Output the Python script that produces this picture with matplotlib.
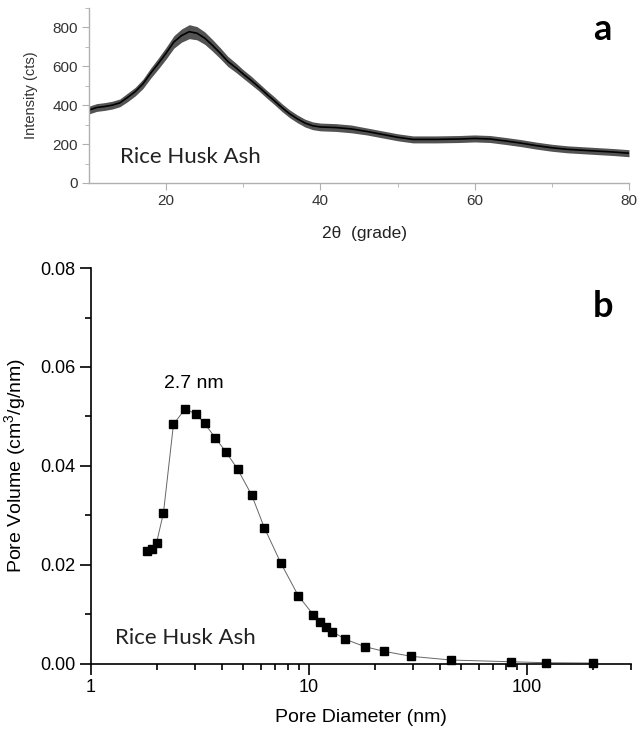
import matplotlib
matplotlib.use("Agg")
import matplotlib.pyplot as plt
from matplotlib.ticker import MultipleLocator, FixedLocator, LogLocator, NullFormatter

plt.rcParams['font.family'] = ['Liberation Sans', 'DejaVu Sans']
plt.rcParams['mathtext.fontset'] = 'custom'
plt.rcParams['mathtext.rm'] = 'Liberation Sans'
plt.rcParams['mathtext.it'] = 'Liberation Sans:italic'

# XRD pattern of the ash (centre of the noisy trace and its half-width)
two_theta = [10, 11, 12, 13, 14, 15, 16, 17, 18, 19, 20, 21, 22, 23, 24, 25, 26, 27,
             28, 29, 30, 31, 32, 33, 34, 35, 36, 37, 38, 39, 40, 42, 44, 46, 48, 50,
             52, 55, 58, 60, 62, 64, 66, 68, 70, 72, 75, 78, 80]
intensity = [375, 388, 393, 400, 412, 440, 470, 510, 565, 615, 668, 725, 758, 778, 770,
             745, 708, 668, 625, 594, 560, 528, 494, 458, 424, 388, 356, 330, 308, 294,
             288, 285, 278, 265, 250, 235, 224, 224, 226, 229, 226, 216, 205, 192, 181,
             173, 166, 159, 153]
noise = [20, 20, 20, 20, 20, 22, 22, 24, 26, 28, 30, 32, 34, 36, 34, 32, 30, 28,
         26, 24, 22, 22, 20, 20, 20, 20, 20, 20, 20, 20, 20, 20, 20, 18, 18, 18,
         18, 18, 18, 18, 18, 18, 18, 18, 18, 18, 18, 18, 18]

# BJH pore size distribution
pore_d = [1.80, 1.90, 2.00, 2.15, 2.39, 2.70, 3.03, 3.32, 3.71, 4.15, 4.71, 5.46, 6.24,
          7.44, 8.93, 10.47, 11.2, 11.96, 12.8, 14.7, 18.07, 22.15, 29.4, 44.7, 84.2,
          122.7, 200]
pore_v = [0.0228, 0.0231, 0.0245, 0.0305, 0.0484, 0.0515, 0.0505, 0.0486, 0.0457,
          0.0429, 0.0393, 0.0341, 0.0275, 0.0203, 0.01375, 0.0099, 0.00837, 0.00749,
          0.00648, 0.00493, 0.00344, 0.0025, 0.0015, 0.00075, 0.0004, 0.0002, 0.00014]
peak_d = 2.7

fig = plt.figure(figsize=(6.43, 7.36), dpi=100)

# ---- panel a: XRD ----
ax1 = fig.add_axes([0.1384, 0.7514, 0.8398, 0.2378])
lo = [v - n for v, n in zip(intensity, noise)]
hi = [v + n for v, n in zip(intensity, noise)]
ax1.fill_between(two_theta, lo, hi, color='#1a1a1a', alpha=0.75, lw=0)
ax1.plot(two_theta, intensity, color='black', lw=1.2)
ax1.set_xlim(10, 80)
ax1.set_ylim(0, 900)
ax1.xaxis.set_major_locator(FixedLocator([20, 40, 60, 80]))
ax1.xaxis.set_minor_locator(FixedLocator([30, 50, 70]))
ax1.yaxis.set_major_locator(FixedLocator([0, 200, 400, 600, 800]))
ax1.yaxis.set_minor_locator(FixedLocator([100, 300, 500, 700, 900]))
for s in ['top', 'right']:
    ax1.spines[s].set_visible(False)
for s in ['left', 'bottom']:
    ax1.spines[s].set_color('#b0b0b0')
    ax1.spines[s].set_linewidth(1.0)
ax1.tick_params(which='both', direction='out', color='#b0b0b0', labelcolor='#333333',
                labelsize=11)
ax1.tick_params(which='major', length=5, pad=3)
ax1.tick_params(which='minor', length=3)
ax1.set_xlabel('2θ  (grade)', fontsize=12.5, color='#222222')
ax1.set_ylabel('Intensity (cts)', fontsize=10.5, color='#333333')
ax1.xaxis.set_label_coords(0.511, -0.246)
ax1.yaxis.set_label_coords(-0.094, 0.5)
ax1.text(14.0, 134, 'Rice Husk Ash', family='Lato', fontsize=16, color='#222222',
         ha='left', va='center')
ax1.text(0.951, 0.878, 'a', transform=ax1.transAxes, family='Lato', fontweight='bold',
         fontsize=26, ha='center', va='center')

# ---- panel b: pore size distribution ----
ax2 = fig.add_axes([0.1415, 0.0982, 0.8398, 0.5376])
ax2.plot(pore_d, pore_v, color='#666666', lw=0.7, zorder=2)
ax2.plot(pore_d, pore_v, ls='none', marker='s', ms=5.5, color='black', zorder=3,
         clip_on=False)
ax2.set_xscale('log')
ax2.set_xlim(1, 300)
ax2.set_ylim(0, 0.08)
ax2.xaxis.set_major_locator(LogLocator(base=10, numticks=5))
ax2.xaxis.set_minor_locator(LogLocator(base=10, subs=range(2, 10), numticks=20))
ax2.xaxis.set_minor_formatter(NullFormatter())
ax2.xaxis.set_major_formatter(plt.FuncFormatter(lambda v, p: '%g' % v))
ax2.yaxis.set_major_locator(MultipleLocator(0.02))
ax2.yaxis.set_minor_locator(MultipleLocator(0.01))
ax2.yaxis.set_major_formatter(plt.FuncFormatter(lambda v, p: '%.2f' % v))
for s in ['top', 'right']:
    ax2.spines[s].set_visible(False)
for s in ['left', 'bottom']:
    ax2.spines[s].set_linewidth(1.2)
ax2.tick_params(which='both', direction='out', width=1.2, labelsize=13, color='black')
ax2.tick_params(which='major', length=8, pad=3)
ax2.tick_params(which='minor', length=4.5)
ax2.set_xlabel('Pore Diameter (nm)', fontsize=14)
ax2.set_ylabel('Pore Volume (cm$^3$/g/nm)', fontsize=14)
ax2.xaxis.set_label_coords(0.5, -0.1145)
ax2.yaxis.set_label_coords(-0.117, 0.5)
ax2.text(2.95, 0.0566, '%.1f nm' % peak_d, fontsize=14, ha='center', va='center')
ax2.text(1.29, 0.0052, 'Rice Husk Ash', family='Lato', fontsize=16, color='#222222',
         ha='left', va='center')
ax2.text(0.949, 0.902, 'b', transform=ax2.transAxes, family='Lato', fontweight='bold',
         fontsize=26, ha='center', va='center')

fig.savefig('out.png', dpi=100)
